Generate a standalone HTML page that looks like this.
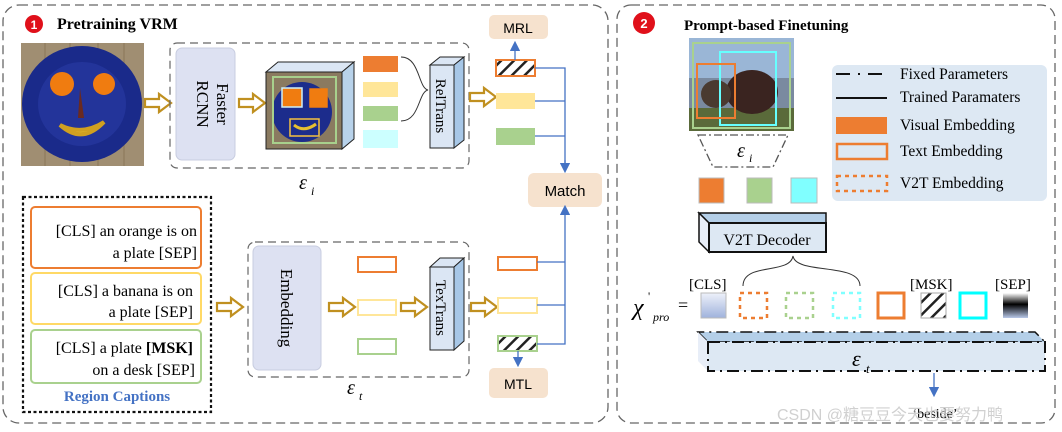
<!DOCTYPE html>
<html><head><meta charset="utf-8"><style>
html,body{margin:0;padding:0;background:#fff;}
svg{display:block;}
.s{font-family:"Liberation Serif",serif;}
.a{font-family:"Liberation Sans",sans-serif;}
</style></head><body>
<svg width="1062" height="432" viewBox="0 0 1062 432" xmlns="http://www.w3.org/2000/svg">
<defs>
<pattern id="h" width="9" height="9" patternUnits="userSpaceOnUse" patternTransform="rotate(45)">
<rect width="9" height="9" fill="#fff"/><rect x="0" y="0" width="2.5" height="9" fill="#222"/></pattern>
<linearGradient id="cls" x1="0" y1="0" x2="0" y2="1"><stop offset="0" stop-color="#eef1fa"/><stop offset="1" stop-color="#9fb2dc"/></linearGradient>
<linearGradient id="sep" x1="0" y1="0" x2="0" y2="1"><stop offset="0" stop-color="#fff"/><stop offset="0.45" stop-color="#000"/><stop offset="1" stop-color="#b8c8e8"/></linearGradient>
<marker id="ar" markerWidth="8" markerHeight="8" refX="4" refY="4" orient="auto"><path d="M0,0 L8,4 L0,8 z" fill="#4472c4"/></marker>
<g id="harrow"><path d="M0,-4 H14 V-9 L26,0 L14,9 V4 H0 Z" fill="#fff" stroke="#c09020" stroke-width="2.2"/></g>
</defs>

<!-- LEFT PANEL -->
<rect x="3" y="5" width="605" height="418" rx="16" fill="none" stroke="#666" stroke-width="1.3" stroke-dasharray="9,5"/>
<circle cx="34" cy="24" r="9" fill="#e0101a"/><text x="34" y="29" class="a" font-size="12" font-weight="bold" fill="#fff" text-anchor="middle">1</text>
<text x="57" y="29" class="s" font-size="16" font-weight="bold">Pretraining VRM</text>

<rect x="21" y="43" width="123" height="123" fill="#a08e72"/>
<g stroke="#8a7658" stroke-width="1"><line x1="45" y1="43" x2="45" y2="166"/><line x1="70" y1="43" x2="70" y2="166"/><line x1="98" y1="43" x2="98" y2="166"/><line x1="124" y1="43" x2="124" y2="166"/></g>
<ellipse cx="82" cy="104" rx="60" ry="58" fill="#1a2a8a"/>
<ellipse cx="82" cy="104" rx="44" ry="42" fill="#23349a"/>
<circle cx="62" cy="84" r="12" fill="#f07c10"/><circle cx="104" cy="84" r="11" fill="#f07c10"/>
<path d="M80,88 L84,118 L78,118 Z" fill="#6a2a20"/>
<path d="M60,125 Q82,145 104,122 Q82,136 60,125 Z" fill="#e8c030" stroke="#d0a020" stroke-width="4"/>

<use href="#harrow" x="145" y="103"/>
<rect x="170" y="43" width="299" height="125" rx="7" fill="none" stroke="#666" stroke-width="1.2" stroke-dasharray="8,5"/>
<rect x="176" y="48" width="59" height="112" rx="6" fill="#dde1f2" stroke="#c8cde0"/>
<text transform="translate(217,104) rotate(90)" class="s" font-size="17" text-anchor="middle">Faster</text>
<text transform="translate(197,104) rotate(90)" class="s" font-size="17" text-anchor="middle">RCNN</text>
<use href="#harrow" x="239" y="103"/>
<path d="M266,72 L278,62 L354,62 L342,72 Z" fill="#dbe6f4" stroke="#222"/>
<path d="M342,72 L354,62 L354,139 L342,149 Z" fill="#b8d2ea" stroke="#222"/>
<rect x="266" y="72" width="76" height="77" fill="#8a7a60" stroke="#222"/>
<ellipse cx="302" cy="112" rx="30" ry="30" fill="#1c2c8c"/>
<rect x="273" y="77" width="63" height="66" fill="none" stroke="#a8d08c" stroke-width="2"/>
<rect x="282" y="88" width="20" height="19" fill="#f07c10" stroke="#cbeefa" stroke-width="1.5"/>
<rect x="310" y="89" width="17" height="18" fill="#f07c10" stroke="#f07c10" stroke-width="1.5"/>
<rect x="290" y="119" width="29" height="17" fill="#1c2c8c" stroke="#f5c040" stroke-width="1.5"/>
<path d="M294,125 Q304,133 316,124" stroke="#e8c030" stroke-width="3" fill="none"/>
<rect x="363" y="56" width="35" height="16" fill="#ed7d31"/>
<rect x="363" y="82" width="35" height="15" fill="#ffe699"/>
<rect x="363" y="106" width="35" height="15" fill="#a9d18e"/>
<rect x="363" y="130" width="35" height="18" fill="#ccffff"/>
<path d="M401,57 C420,57 418,88 428,90 C418,92 420,121 401,121" fill="none" stroke="#333" stroke-width="1"/>
<path d="M430,65 L440,57 L464,57 L454,65 Z" fill="#dbe6f4" stroke="#222"/>
<path d="M454,65 L464,57 L464,140 L454,148 Z" fill="#a7c7e7" stroke="#222"/>
<rect x="430" y="65" width="24" height="83" fill="#dbe6f4" stroke="#222"/>
<text transform="translate(436,106) rotate(90)" class="s" font-size="15" text-anchor="middle">RelTrans</text>
<use href="#harrow" x="470" y="97"/>
<rect x="496" y="60" width="39" height="16" fill="url(#h)" stroke="#ed7d31" stroke-width="2"/>
<rect x="496" y="93" width="39" height="16" fill="#ffe699"/>
<rect x="496" y="128" width="39" height="17" fill="#a9d18e"/>
<rect x="489" y="15" width="59" height="24" rx="5" fill="#f6e2ce"/>
<text x="518" y="33" class="a" font-size="14" text-anchor="middle">MRL</text>
<line x1="515" y1="60" x2="515" y2="46" stroke="#4472c4" stroke-width="1.3" marker-end="url(#ar)"/>
<g stroke="#4472c4" stroke-width="1.3" fill="none">
<path d="M535,68 H565 V165"/><path d="M535,101 H565"/><path d="M535,136 H565"/>
</g>
<line x1="565" y1="160" x2="565" y2="168" stroke="#4472c4" stroke-width="1.3" marker-end="url(#ar)"/>
<rect x="528" y="173" width="74" height="34" rx="6" fill="#f6e2ce"/>
<text x="565" y="196" class="a" font-size="15" text-anchor="middle">Match</text>
<text x="299" y="189" class="s" font-size="20" font-style="italic">ε</text><text x="311" y="195" class="s" font-size="12" font-style="italic">i</text>

<rect x="23" y="197" width="188" height="215" fill="none" stroke="#111" stroke-width="2.2" stroke-dasharray="3,2.5"/>
<rect x="31" y="207" width="170" height="61" rx="4" fill="#fff" stroke="#ed7d31" stroke-width="2"/>
<text x="197" y="236" class="s" font-size="16" text-anchor="end">[CLS] an orange is on</text>
<text x="197" y="258" class="s" font-size="16" text-anchor="end">a plate [SEP]</text>
<rect x="31" y="273" width="170" height="51" rx="4" fill="#fff" stroke="#ffd966" stroke-width="2"/>
<text x="193" y="296" class="s" font-size="16" text-anchor="end">[CLS] a banana is on</text>
<text x="193" y="317" class="s" font-size="16" text-anchor="end">a plate [SEP]</text>
<rect x="31" y="330" width="170" height="53" rx="4" fill="#fff" stroke="#a9d18e" stroke-width="2"/>
<text x="193" y="353" class="s" font-size="16" text-anchor="end">[CLS] a plate <tspan font-weight="bold">[MSK]</tspan></text>
<text x="195" y="375" class="s" font-size="16" text-anchor="end">on a desk [SEP]</text>
<text x="117" y="401" class="s" font-size="15" font-weight="bold" fill="#4472c4" text-anchor="middle">Region Captions</text>

<use href="#harrow" x="217" y="307"/>
<rect x="248" y="242" width="221" height="135" rx="7" fill="none" stroke="#666" stroke-width="1.2" stroke-dasharray="8,5"/>
<rect x="253" y="246" width="68" height="124" rx="6" fill="#dde1f2" stroke="#c8cde0"/>
<text transform="translate(281,308) rotate(90)" class="s" font-size="17" text-anchor="middle">Embedding</text>
<use href="#harrow" x="329" y="307"/>
<rect x="358" y="257" width="38" height="15" fill="#fff" stroke="#ed7d31" stroke-width="2"/>
<rect x="358" y="300" width="38" height="15" fill="#fff" stroke="#ffe699" stroke-width="2"/>
<rect x="358" y="339" width="38" height="15" fill="#fff" stroke="#a9d18e" stroke-width="2"/>
<use href="#harrow" x="401" y="307"/>
<path d="M430,267 L440,258 L464,258 L454,267 Z" fill="#dbe6f4" stroke="#222"/>
<path d="M454,267 L464,258 L464,341 L454,350 Z" fill="#a7c7e7" stroke="#222"/>
<rect x="430" y="267" width="24" height="83" fill="#dbe6f4" stroke="#222"/>
<text transform="translate(436,308) rotate(90)" class="s" font-size="15" text-anchor="middle">TexTrans</text>
<use href="#harrow" x="471" y="307"/>
<rect x="498" y="257" width="39" height="13" fill="#fff" stroke="#ed7d31" stroke-width="2"/>
<rect x="498" y="298" width="39" height="15" fill="#fff" stroke="#ffe699" stroke-width="2"/>
<rect x="498" y="336" width="39" height="15" fill="url(#h)" stroke="#a9d18e" stroke-width="2"/>
<g stroke="#4472c4" stroke-width="1.3" fill="none">
<path d="M537,262 H565"/><path d="M537,305 H565"/><path d="M537,344 H565 V212"/>
</g>
<line x1="565" y1="215" x2="565" y2="210" stroke="#4472c4" stroke-width="1.3" marker-end="url(#ar)"/>
<line x1="518" y1="351" x2="518" y2="362" stroke="#4472c4" stroke-width="1.3" marker-end="url(#ar)"/>
<rect x="489" y="368" width="59" height="30" rx="5" fill="#f6e2ce"/>
<text x="518" y="389" class="a" font-size="14" text-anchor="middle">MTL</text>
<text x="347" y="394" class="s" font-size="20" font-style="italic">ε</text><text x="359" y="400" class="s" font-size="12" font-style="italic">t</text>

<!-- RIGHT PANEL -->
<rect x="617" y="5" width="438" height="418" rx="14" fill="none" stroke="#666" stroke-width="1.3" stroke-dasharray="9,5"/>
<circle cx="644" cy="23" r="11" fill="#e0101a"/><text x="644" y="28" class="a" font-size="13" font-weight="bold" fill="#fff" text-anchor="middle">2</text>
<text x="684" y="30" class="s" font-size="15" font-weight="bold">Prompt-based Finetuning</text>
<rect x="689" y="38" width="105" height="93" fill="#9ab6d6"/>
<rect x="689" y="78" width="105" height="30" fill="#7a8aa0"/>
<rect x="689" y="108" width="105" height="23" fill="#5a6a3a"/>
<ellipse cx="752" cy="92" rx="26" ry="22" fill="#3a2420"/>
<ellipse cx="716" cy="94" rx="15" ry="14" fill="#4a3a30"/>
<rect x="693" y="43" width="97" height="85" fill="none" stroke="#a9d18e" stroke-width="2"/>
<rect x="720" y="52" width="56" height="73" fill="none" stroke="#66ffff" stroke-width="2"/>
<rect x="697" y="64" width="38" height="54" fill="none" stroke="#ed7d31" stroke-width="2"/>
<path d="M698,135 L788,135 L773,167 L713,167 Z" fill="none" stroke="#555" stroke-width="1.3" stroke-dasharray="8,3,2,3"/>
<text x="737" y="157" class="s" font-size="20" font-style="italic">ε</text><text x="749" y="162" class="s" font-size="12" font-style="italic">i</text>
<rect x="699" y="178" width="25" height="25" fill="#ed7d31" stroke="#bbb"/>
<rect x="747" y="178" width="25" height="25" fill="#a9d18e" stroke="#bbb"/>
<rect x="791" y="178" width="26" height="25" fill="#80ffff" stroke="#bbb"/>
<rect x="832" y="65" width="215" height="136" rx="6" fill="#dde8f3"/>
<line x1="836" y1="74" x2="887" y2="74" stroke="#111" stroke-width="2" stroke-dasharray="14,8,2,8"/>
<line x1="836" y1="98" x2="887" y2="98" stroke="#111" stroke-width="2"/>
<rect x="836" y="117" width="51" height="17" fill="#ed7d31"/>
<rect x="837" y="144" width="50" height="15" fill="none" stroke="#ed7d31" stroke-width="2.5"/>
<rect x="837" y="176" width="50" height="15" fill="none" stroke="#ed7d31" stroke-width="2.5" stroke-dasharray="4,4"/>
<g class="s" font-size="15.5"><text x="900" y="79">Fixed Parameters</text><text x="900" y="102">Trained Paramaters</text><text x="900" y="130">Visual Embedding</text><text x="900" y="156">Text Embedding</text><text x="900" y="188">V2T Embedding</text></g>
<path d="M699,213 L709,223 L826,223 L826,213 L816,213 Z" fill="#b4cfe8" stroke="#111" stroke-width="1.5"/>
<path d="M699,213 L699,242 L709,252 L709,223 Z" fill="#e8eef8" stroke="#111" stroke-width="1.5"/>
<rect x="709" y="223" width="117" height="29" fill="#dde8f3" stroke="#111" stroke-width="2"/>
<text x="767" y="245" class="s" font-size="16" text-anchor="middle">V2T Decoder</text>
<path d="M743,286 C743,262 790,275 793,256 C796,275 860,262 860,286" fill="none" stroke="#333" stroke-width="1"/>
<text x="633" y="315" class="s" font-size="24" font-style="italic">χ</text><text x="648" y="300" class="s" font-size="12">'</text>
<text x="653" y="321" class="s" font-size="12" font-style="italic">pro</text><text x="678" y="311" class="s" font-size="18">=</text>
<g class="s" font-size="15"><text x="689" y="289">[CLS]</text><text x="910" y="289">[MSK]</text><text x="995" y="289">[SEP]</text></g>
<rect x="701" y="293" width="25" height="25" fill="url(#cls)" stroke="#bbb"/>
<rect x="740" y="293" width="27" height="25" fill="none" stroke="#ed7d31" stroke-width="2.5" stroke-dasharray="4,4"/>
<rect x="786" y="293" width="27" height="25" fill="none" stroke="#a9d18e" stroke-width="2.5" stroke-dasharray="4,4"/>
<rect x="833" y="293" width="27" height="25" fill="none" stroke="#80ffff" stroke-width="2.5" stroke-dasharray="4,4"/>
<rect x="878" y="293" width="26" height="25" fill="none" stroke="#ed7d31" stroke-width="3"/>
<rect x="921" y="293" width="25" height="25" fill="url(#h)" stroke="#aaa"/>
<rect x="960" y="293" width="26" height="25" fill="none" stroke="#00ffff" stroke-width="3"/>
<rect x="1003" y="293" width="25" height="25" fill="url(#sep)"/>
<path d="M698,332 L708,342 L1045,342 L1035,332 Z" fill="#b4cfe8" stroke="#111" stroke-width="1.5" stroke-dasharray="12,5,2,5"/>
<path d="M698,332 L698,361 L708,371 L708,342 Z" fill="#e8eef8"/>
<rect x="708" y="342" width="337" height="29" fill="#dde8f3" stroke="#111" stroke-width="2" stroke-dasharray="12,5,2,5"/>
<text x="852" y="366" class="s" font-size="22" font-style="italic">ε</text><text x="866" y="373" class="s" font-size="13" font-style="italic">t</text>
<line x1="934" y1="373" x2="934" y2="392" stroke="#4472c4" stroke-width="1.3" marker-end="url(#ar)"/>
<text x="935" y="418" class="s" font-size="14" text-anchor="middle">‘beside’</text>
<text x="777" y="420" class="a" font-size="16" fill="#c8c8c8" fill-opacity="0.85" style="font-family:'Liberation Sans','Noto Sans CJK SC',sans-serif">CSDN @糖豆豆今天也要努力鸭</text>
</svg>
</body></html>
